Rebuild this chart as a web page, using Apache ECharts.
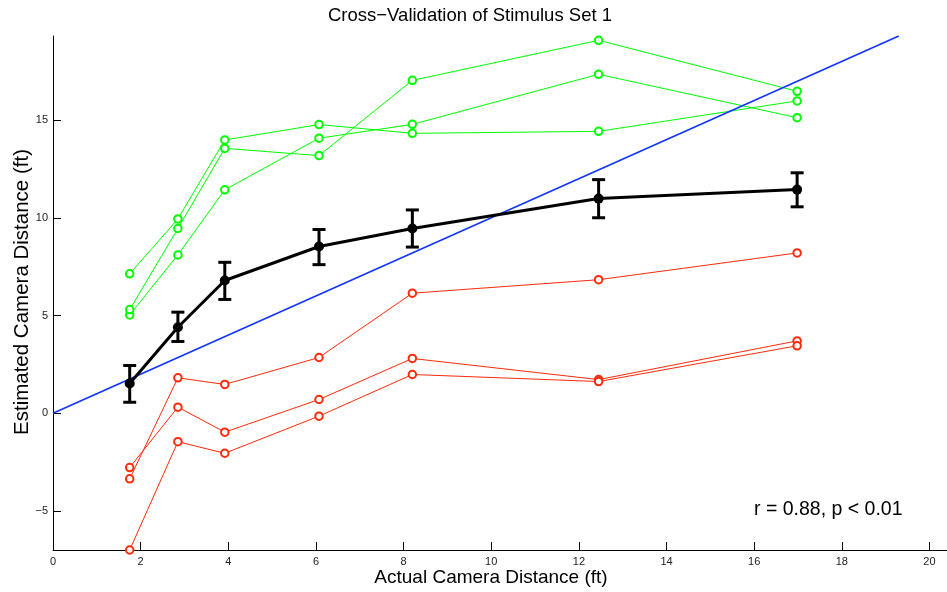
<!DOCTYPE html>
<html><head><meta charset="utf-8">
<script src="https://cdn.jsdelivr.net/npm/echarts@6/dist/echarts.min.js"></script>
<style>html,body{margin:0;padding:0;background:#fff}#c{width:947px;height:592px}</style>
</head><body><div id="c"></div>
<script>
// Data
const distances = [1.75, 2.85, 3.92, 6.07, 8.2, 12.45, 16.98];
const greenA = [7.13, 9.94, 13.98, 14.77, 14.32, 14.42, 15.98];
const greenB = [5.03, 8.10, 11.43, 14.07, 14.78, 17.34, 15.12];
const greenC = [5.30, 9.45, 13.55, 13.18, 17.03, 19.08, 16.47];
const redA = [-3.36, 1.81, 1.47, 2.85, 6.14, 6.83, 8.20];
const redB = [-2.78, 0.31, -0.97, 0.70, 2.80, 1.72, 3.70];
const redC = [-7.00, -1.46, -2.05, -0.15, 1.98, 1.62, 3.45];
const meanEst = [1.52, 4.40, 6.79, 8.53, 9.45, 10.98, 11.44];
const errLow = [0.56, 3.67, 5.82, 7.60, 8.50, 10.00, 10.56];
const errHigh = [2.44, 5.17, 7.72, 9.40, 10.40, 11.95, 12.30];
const identityLine = [[0, 0], [19.3, 19.3]];
const xTicks = [0, 2, 4, 6, 8, 10, 12, 14, 16, 18, 20];
const yTicks = [-5, 0, 5, 10, 15];

const FONT = '"Liberation Sans", Arial, Helvetica, sans-serif';
const GREEN = '#00ff00';
const RED = '#ff2a0a';

function pairs(ys) { return distances.map((x, i) => [x, ys[i]]); }
function thinSeries(ys, color) {
  return {
    type: 'line', data: pairs(ys), symbol: 'emptyCircle', symbolSize: 7.5, clip: false,
    lineStyle: { color: color, width: 1 },
    itemStyle: { color: color, borderWidth: 1 },
    z: 2
  };
}

const chart = echarts.init(document.getElementById('c'), null, { renderer: 'canvas' });
chart.setOption({
  animation: false,
  backgroundColor: '#fff',
  grid: { left: 53, right: 0, top: 36, bottom: 42, containLabel: false },
  xAxis: {
    type: 'value', min: 0, max: 20.4,
    axisLine: { show: true, onZero: false, lineStyle: { color: '#000', width: 1 } },
    axisTick: { show: true, inside: true, length: 8, customValues: xTicks, lineStyle: { color: '#000' } },
    axisLabel: { customValues: xTicks, color: '#222', fontSize: 11, fontFamily: FONT, margin: 6 },
    splitLine: { show: false }
  },
  yAxis: {
    type: 'value', min: -7, max: 19.3,
    axisLine: { show: true, onZero: false, lineStyle: { color: '#000', width: 1 } },
    axisTick: { show: true, inside: true, length: 8, customValues: yTicks, lineStyle: { color: '#000' } },
    axisLabel: { customValues: yTicks, color: '#222', fontSize: 11, fontFamily: FONT, margin: 5,
      formatter: v => String(v).replace('-', '\u2212') },
    splitLine: { show: false }
  },
  graphic: [
    { type: 'text', x: 470, y: 16, style: { text: 'Cross\u2212Validation of Stimulus Set 1', font: '18.5px ' + FONT, fill: '#000', align: 'center', verticalAlign: 'middle' } },
    { type: 'text', x: 491, y: 578, style: { text: 'Actual Camera Distance (ft)', font: '19px ' + FONT, fill: '#000', align: 'center', verticalAlign: 'middle' } },
    { type: 'text', x: 22, y: 292, rotation: Math.PI / 2, style: { text: 'Estimated Camera Distance (ft)', font: '20.5px ' + FONT, fill: '#000', align: 'center', verticalAlign: 'middle' } },
    { type: 'text', x: 754, y: 510, style: { text: 'r = 0.88, p < 0.01', font: '19.5px ' + FONT, fill: '#000', align: 'left', verticalAlign: 'middle' } }
  ],
  series: [
    thinSeries(greenA, GREEN), thinSeries(greenB, GREEN), thinSeries(greenC, GREEN),
    thinSeries(redA, RED), thinSeries(redB, RED), thinSeries(redC, RED),
    { type: 'line', data: identityLine, symbol: 'none', lineStyle: { color: '#1234ff', width: 1.6 }, z: 3 },
    {
      type: 'custom', z: 4,
      data: distances.map((x, i) => [x, errLow[i], errHigh[i]]),
      renderItem: function (params, api) {
        const x = api.value(0);
        const lo = api.coord([x, api.value(1)]);
        const hi = api.coord([x, api.value(2)]);
        const w = 6.5;
        const st = { stroke: '#000', lineWidth: 3 };
        return {
          type: 'group', children: [
            { type: 'line', shape: { x1: lo[0], y1: lo[1], x2: hi[0], y2: hi[1] }, style: st },
            { type: 'line', shape: { x1: lo[0] - w, y1: lo[1], x2: lo[0] + w, y2: lo[1] }, style: st },
            { type: 'line', shape: { x1: hi[0] - w, y1: hi[1], x2: hi[0] + w, y2: hi[1] }, style: st }
          ]
        };
      }
    },
    {
      type: 'line', data: pairs(meanEst), symbol: 'circle', symbolSize: 10, z: 5,
      lineStyle: { color: '#000', width: 3 }, itemStyle: { color: '#000' }
    }
  ]
});
</script>
</body></html>
